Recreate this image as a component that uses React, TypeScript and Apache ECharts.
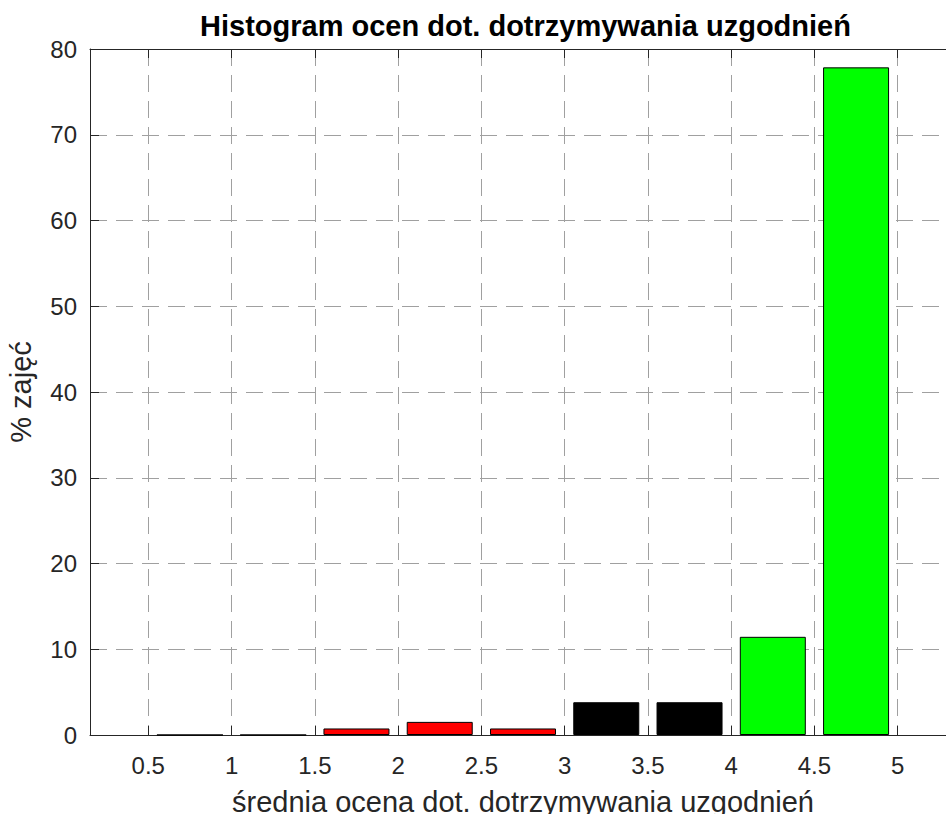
import React, { useEffect, useRef } from "react";
import * as echarts from "echarts";

const binCenters = [0.75, 1.25, 1.75, 2.25, 2.75, 3.25, 3.75, 4.25, 4.75];
const percentages = [0, 0, 0.76, 1.53, 0.76, 3.82, 3.82, 11.45, 77.86];
const binColors = ["#ff0000", "#ff0000", "#ff0000", "#ff0000", "#ff0000", "#000000", "#000000", "#00ff00", "#00ff00"];
const xTicks = [0.5, 1, 1.5, 2, 2.5, 3, 3.5, 4, 4.5, 5];
const titleText = "Histogram ocen dot. dotrzymywania uzgodnień";
const xName = "średnia ocena dot. dotrzymywania uzgodnień";
const yName = "% zajęć";

const FONT = "'Liberation Sans', Arial, Helvetica, sans-serif";
const AX = "#262626";

export default function App() {
  const ref = useRef<HTMLDivElement>(null);
  useEffect(() => {
    document.body.style.margin = "0";
    const chart = echarts.init(ref.current!, null, { renderer: "svg" });
    const grid = { left: 90, top: 49, width: 866, height: 686, outerBoundsMode: "none", containLabel: false };
    chart.setOption({
      animation: false,
      backgroundColor: "#ffffff",
      title: {
        text: titleText,
        left: 195,
        top: 6,
        textStyle: { fontFamily: FONT, fontSize: 29, fontWeight: "bold", color: "#000" },
      },
      grid,
      xAxis: [
        {
          type: "value",
          position: "bottom",
          min: 0.15,
          max: 5.35,
          name: xName,
          nameLocation: "middle",
          nameGap: 52,
          nameTextStyle: { fontFamily: FONT, fontSize: 29, color: AX },
          axisLine: { show: true, onZero: false, lineStyle: { color: AX, width: 1 } },
          axisTick: { show: true, inside: true, length: 9, customValues: xTicks, lineStyle: { color: AX, width: 1 } },
          axisLabel: {
            customValues: xTicks,
            fontFamily: FONT,
            fontSize: 24,
            color: AX,
            margin: 18,
            formatter: (v: number) => String(v),
          },
          splitLine: { show: true, lineStyle: { color: "#a0a0a0", type: [17, 9], width: 1 } },
        },
        {
          type: "value",
          position: "top",
          min: 0.15,
          max: 5.35,
          axisLine: { show: true, onZero: false, lineStyle: { color: AX, width: 1 } },
          axisTick: { show: true, inside: true, length: 9, customValues: xTicks, lineStyle: { color: AX, width: 1 } },
          axisLabel: { show: false },
          splitLine: { show: false },
        },
      ],
      yAxis: {
        type: "value",
        min: 0,
        max: 80,
        interval: 10,
        name: yName,
        nameLocation: "middle",
        nameGap: 55,
        nameRotate: 90,
        nameTextStyle: { fontFamily: FONT, fontSize: 29, color: AX },
        axisLine: { show: true, lineStyle: { color: AX, width: 1 } },
        axisTick: { show: true, inside: true, length: 9, lineStyle: { color: AX, width: 1 } },
        axisLabel: { fontFamily: FONT, fontSize: 24, color: AX, margin: 13 },
        splitLine: { show: true, lineStyle: { color: "#a0a0a0", type: [17, 9], width: 1 } },
      },
      series: [
        {
          type: "bar",
          xAxisIndex: 0,
          barWidth: 66,
          data: binCenters.map((c, i) => ({
            value: [c, percentages[i]],
            itemStyle: { color: binColors[i], borderColor: "#000", borderWidth: 1 },
          })),
        },
      ],
    });
    return () => chart.dispose();
  }, []);
  return <div ref={ref} style={{ width: 946, height: 814 }} />;
}
